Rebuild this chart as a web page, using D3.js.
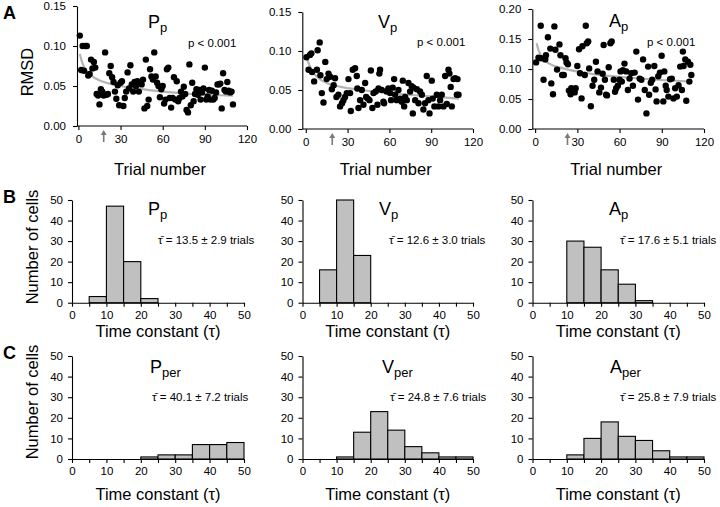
<!DOCTYPE html>
<html><head><meta charset="utf-8">
<script src="https://cdn.jsdelivr.net/npm/d3@7"></script>
<style>
html,body{margin:0;padding:0;background:#fff;}
svg{display:block;font-family:Arial,"Liberation Sans",sans-serif;}
</style></head>
<body>
<svg id="chart" width="720" height="507"></svg>
<script>
// ---------------- DATA ----------------
const scatterTicksX = [0, 30, 60, 90, 120];
const ticksRmsdPV = [0, 0.05, 0.10, 0.15];
const ticksRmsdA = [0, 0.05, 0.10, 0.15, 0.20];
const arrowTrials = [18, 19, 23];

const ppScatter = [[1,0.113],[2,0.070],[3,0.100],[4,0.069],[5,0.100],[6,0.100],[7,0.063],[8,0.065],[9,0.083],[10,0.072],
[11,0.080],[12,0.073],[13,0.040],[14,0.038],[15,0.027],[16,0.046],[17,0.043],[18,0.038],[19,0.092],[20,0.039],
[21,0.040],[22,0.066],[23,0.075],[24,0.061],[25,0.055],[26,0.043],[27,0.034],[28,0.051],[29,0.026],[30,0.054],
[31,0.056],[32,0.025],[33,0.035],[34,0.043],[35,0.067],[36,0.047],[37,0.076],[38,0.052],[39,0.043],[40,0.055],
[41,0.050],[42,0.056],[43,0.043],[44,0.054],[45,0.052],[46,0.058],[47,0.022],[48,0.083],[49,0.025],[50,0.033],
[51,0.071],[52,0.062],[53,0.058],[54,0.092],[55,0.062],[56,0.054],[57,0.050],[58,0.036],[59,0.046],[60,0.050],
[61,0.028],[62,0.033],[63,0.071],[64,0.073],[65,0.035],[66,0.023],[67,0.035],[68,0.061],[69,0.033],[70,0.056],
[71,0.031],[72,0.035],[73,0.043],[74,0.037],[75,0.049],[76,0.040],[77,0.020],[78,0.017],[79,0.077],[80,0.026],
[81,0.054],[82,0.031],[83,0.040],[84,0.046],[85,0.039],[86,0.045],[87,0.033],[88,0.042],[89,0.047],[90,0.073],
[91,0.033],[92,0.037],[93,0.045],[94,0.033],[95,0.044],[96,0.033],[97,0.035],[98,0.042],[99,0.052],[100,0.052],
[101,0.053],[102,0.022],[103,0.066],[104,0.045],[105,0.043],[106,0.055],[107,0.044],[108,0.042],[109,0.043],[110,0.027]];

const vpScatter = [[0.5,0.092],[2,0.076],[3,0.095],[4,0.097],[4.5,0.073],[6,0.061],[8,0.076],[8.5,0.101],[10,0.111],[10.5,0.069],
[11.5,0.046],[12.7,0.034],[14,0.086],[15,0.064],[16.3,0.071],[17.5,0.067],[18.7,0.051],[20,0.056],[21,0.065],[22,0.041],
[23.4,0.044],[24.6,0.029],[26,0.033],[27,0.037],[28.2,0.041],[29.4,0.046],[30.6,0.064],[31.8,0.046],[32.3,0.023],[33.7,0.076],
[35.4,0.078],[36.6,0.068],[37,0.052],[37.8,0.027],[39,0.037],[40.2,0.050],[41.4,0.031],[42.6,0.059],[43.3,0.041],[44.5,0.039],
[45.7,0.037],[46.7,0.075],[47.8,0.027],[48.6,0.046],[50.2,0.048],[51.4,0.031],[52.2,0.052],[52.8,0.071],[53.3,0.076],[54.5,0.050],
[55.7,0.035],[56.2,0.033],[58,0.048],[59.3,0.052],[60.5,0.046],[61.2,0.037],[62.4,0.053],[63.4,0.064],[64.1,0.044],[65.3,0.037],
[66.5,0.050],[67.7,0.039],[68.9,0.035],[69.6,0.062],[70.6,0.029],[71.3,0.041],[72.5,0.037],[73.7,0.059],[74.9,0.048],[76,0.055],
[76.8,0.020],[77.3,0.053],[78.5,0.037],[79.7,0.051],[80.9,0.033],[82,0.048],[83.3,0.044],[84.4,0.025],[85.6,0.033],[86.8,0.068],
[88,0.037],[88.8,0.020],[90.4,0.062],[91.1,0.039],[92.3,0.029],[94,0.044],[95.2,0.029],[96.4,0.037],[97.6,0.044],[98.8,0.029],
[100,0.068],[101.2,0.032],[102.4,0.076],[103.1,0.071],[104,0.054],[104.8,0.029],[106,0.064],[107.2,0.065],[108.4,0.044],[108.9,0.064],[109.6,0.044]];

const apScatter = [[0.7,0.111],[2.4,0.119],[4,0.172],[4.3,0.118],[6,0.082],[7.2,0.116],[7.7,0.123],[9.1,0.153],[10.8,0.134],[11.5,0.076],
[12.7,0.058],[13.7,0.171],[14.4,0.132],[15.6,0.099],[17.3,0.141],[18,0.123],[19.2,0.090],[20.4,0.090],[21.6,0.118],[22.3,0.111],
[23.3,0.108],[24,0.064],[25.2,0.058],[25.7,0.068],[26.9,0.064],[28.1,0.061],[28.8,0.068],[30,0.105],[31.2,0.133],[31.9,0.093],
[33,0.051],[33.6,0.138],[35.3,0.090],[36,0.172],[36.7,0.143],[37.7,0.146],[38.4,0.101],[39.6,0.038],[40.8,0.072],[42,0.082],
[43.2,0.112],[44.4,0.096],[45.6,0.061],[46.8,0.069],[48,0.092],[48.7,0.140],[49.6,0.082],[50.4,0.057],[51.1,0.056],[52.3,0.103],
[53.5,0.143],[54.4,0.146],[55.9,0.082],[56.8,0.062],[57.6,0.068],[58.8,0.072],[60,0.082],[60.7,0.096],[61.6,0.079],[62.4,0.098],
[63.5,0.109],[64.7,0.096],[65.9,0.065],[67.1,0.084],[68.3,0.093],[69.5,0.072],[70.7,0.094],[71.9,0.129],[73.1,0.049],[74.3,0.084],
[75.5,0.082],[76.7,0.116],[77.9,0.065],[79.1,0.026],[80.3,0.104],[81,0.057],[82.2,0.077],[83.2,0.082],[84.7,0.105],[85.6,0.066],
[86.3,0.046],[87.5,0.088],[88.7,0.094],[89.9,0.122],[91.1,0.046],[91.8,0.096],[92.8,0.072],[93.5,0.065],[94.7,0.054],[95.9,0.083],
[97.1,0.084],[98.3,0.051],[99.5,0.068],[100.7,0.054],[101.9,0.073],[103.1,0.104],[104.3,0.065],[105,0.129],[105.5,0.105],[106.7,0.116],
[107.4,0.047],[108.6,0.112],[109.6,0.079],[110.3,0.107],[111,0.090]];

// fitted curves (trial, RMSD)
const ppFit = [[1,0.090],[3,0.078],[5,0.071],[10,0.062],[20,0.054],[30,0.050],[45,0.046],[60,0.043],[80,0.040],[110,0.038]];
const vpFit = [[1,0.090],[3,0.080],[6,0.071],[10,0.064],[15,0.059],[25,0.054],[40,0.050],[60,0.046],[80,0.043],[110,0.039]];
const apFit = [[1,0.143],[3,0.128],[6,0.116],[10,0.109],[20,0.101],[40,0.092],[70,0.085],[110,0.079]];

// histograms: bins of width 5 from 0 to 50
const binStarts = [0, 5, 10, 15, 20, 25, 30, 35, 40, 45];
const histTicksX = [0, 5, 10, 15, 20, 25, 30, 35, 40, 45, 50];
const histTicksY = [0, 10, 20, 30, 40, 50];
const countsPp   = [0, 3, 47, 20, 2, 0, 0, 0, 0, 0];
const countsVp   = [0, 16, 50, 23, 0, 0, 0, 0, 0, 0];
const countsAp   = [0, 0, 30, 27, 16, 9, 1, 0, 0, 0];
const countsPper = [0, 0, 0, 0, 1, 2, 2, 7, 7, 8];
const countsVper = [0, 0, 1, 13, 23, 14, 6, 3, 1, 1];
const countsAper = [0, 0, 2, 10, 18, 11, 9, 4, 1, 1];
const tauLabels = ["13.5 ± 2.9", "12.6 ± 3.0", "17.6 ± 5.1", "40.1 ± 7.2", "24.8 ± 7.6", "25.8 ± 7.9"];

// ---------------- DRAW ----------------
const svg = d3.select("#chart");
const FONT_TICK = 11.5, FONT_TITLE = 16.5;

function title(g, x, y, main, sub) {
  const t = g.append("text").attr("x", x).attr("y", y).attr("font-size", 18).attr("fill", "#000");
  t.append("tspan").text(main);
  t.append("tspan").attr("font-size", 13).attr("dy", 4).text(sub);
}

function styleAxis(sel) {
  sel.selectAll("path.domain").attr("stroke", "#000").attr("stroke-width", 1.1);
  sel.selectAll(".tick line").attr("stroke", "#000").attr("stroke-width", 1.1);
  sel.selectAll(".tick text").attr("font-size", FONT_TICK).attr("fill", "#000")
     .attr("font-family", "Arial, 'Liberation Sans', sans-serif");
}

// Row A scatter panels
const scatterPanels = [
  {data: ppScatter, fit: ppFit, arrow: arrowTrials[0], xd: [-1, 120], xr: [77, 247], yr: [126, 6], ymax: 0.15, yt: ticksRmsdPV,
   t: ["P", "p"], tx: 148, ty: 28, px: 188, py: 47},
  {data: vpScatter, fit: vpFit, arrow: arrowTrials[1], xd: [-2.5, 120], xr: [302.3, 473], yr: [129, 12], ymax: 0.15, yt: ticksRmsdPV,
   t: ["V", "p"], tx: 378, ty: 28, px: 417, py: 46},
  {data: apScatter, fit: apFit, arrow: arrowTrials[2], xd: [-2, 120], xr: [532.3, 704], yr: [129, 9], ymax: 0.20, yt: ticksRmsdA,
   t: ["A", "p"], tx: 609, ty: 27, px: 647, py: 46}
];

scatterPanels.forEach((p, i) => {
  const g = svg.append("g");
  const x = d3.scaleLinear().domain(p.xd).range(p.xr);
  const y = d3.scaleLinear().domain([0, p.ymax]).range(p.yr);

  // fit curve
  g.append("path").datum(p.fit)
    .attr("d", d3.line().x(d => x(d[0])).y(d => y(d[1])).curve(d3.curveMonotoneX))
    .attr("fill", "none").attr("stroke", "#b4b4b4").attr("stroke-width", 2.2);

  // points
  g.selectAll("circle").data(p.data).join("circle")
    .attr("cx", d => x(d[0])).attr("cy", d => y(d[1])).attr("r", 3.2).attr("fill", "#000");

  const ax = g.append("g").attr("transform", `translate(0,${p.yr[0]})`)
    .call(d3.axisBottom(x).tickValues(scatterTicksX).tickSize(4).tickSizeOuter(0).tickPadding(5).tickFormat(d3.format("d")));
  ax.select("path.domain").attr("d", `M${p.xr[0]},0H${p.xr[1]}`);
  styleAxis(ax);
  const ay = g.append("g").attr("transform", `translate(${p.xr[0]},0)`)
    .call(d3.axisLeft(y).tickValues(p.yt).tickSize(4).tickSizeOuter(0).tickPadding(7).tickFormat(d3.format(".2f")));
  styleAxis(ay);

  // arrow
  const axp = x(p.arrow), base = p.yr[0];
  g.append("line").attr("x1", axp).attr("x2", axp).attr("y1", base + 16).attr("y2", base + 7)
    .attr("stroke", "#7a7a7a").attr("stroke-width", 1.6);
  g.append("path").attr("d", `M${axp},${base + 4}L${axp - 3},${base + 9}L${axp + 3},${base + 9}Z`).attr("fill", "#7a7a7a");

  title(g, p.tx, p.ty, p.t[0], p.t[1]);
  g.append("text").attr("x", p.px).attr("y", p.py).attr("font-size", 11.5).text("p < 0.001");

  g.append("text").attr("x", (p.xr[0] + p.xr[1]) / 2 - 2).attr("y", 175).attr("text-anchor", "middle")
    .attr("font-size", FONT_TITLE).text("Trial number");
});

svg.append("text").attr("transform", "translate(33,72) rotate(-90)").attr("text-anchor", "middle")
  .attr("font-size", FONT_TITLE).text("RMSD");

// Histogram panels
const histPanels = [
  {c: countsPp,   xr: [72, 244],    yr: [302.7, 200], t: ["P", "p"],   tx: 148, ty: 215, lx: 158, ly: 244, lab: tauLabels[0], xlY: 337},
  {c: countsVp,   xr: [302.5, 473], yr: [302.7, 200], t: ["V", "p"],   tx: 379, ty: 215, lx: 389, ly: 244, lab: tauLabels[1], xlY: 337},
  {c: countsAp,   xr: [532.5, 704], yr: [302.7, 200], t: ["A", "p"],   tx: 609, ty: 215, lx: 620, ly: 244, lab: tauLabels[2], xlY: 337},
  {c: countsPper, xr: [72, 244],    yr: [459, 356],   t: ["P", "per"], tx: 150, ty: 373, lx: 152, ly: 401, lab: tauLabels[3], xlY: 500},
  {c: countsVper, xr: [302.5, 473], yr: [459, 356],   t: ["V", "per"], tx: 382, ty: 373, lx: 390, ly: 401, lab: tauLabels[4], xlY: 500},
  {c: countsAper, xr: [532.5, 704], yr: [459, 356],   t: ["A", "per"], tx: 610, ty: 373, lx: 620, ly: 401, lab: tauLabels[5], xlY: 500}
];

histPanels.forEach(p => {
  const g = svg.append("g");
  const x = d3.scaleLinear().domain([0, 50]).range(p.xr);
  const y = d3.scaleLinear().domain([0, 50]).range(p.yr);
  const bins = binStarts.map((b, i) => ({x0: b, x1: b + 5, n: p.c[i]})).filter(d => d.n > 0);
  g.selectAll("rect").data(bins).join("rect")
    .attr("x", d => x(d.x0)).attr("width", d => x(d.x1) - x(d.x0))
    .attr("y", d => y(d.n)).attr("height", d => y(0) - y(d.n))
    .attr("fill", "#c0c0c0").attr("stroke", "#000").attr("stroke-width", 1.1);

  const ax = g.append("g").attr("transform", `translate(0,${p.yr[0]})`)
    .call(d3.axisBottom(x).tickValues(histTicksX).tickSize(4).tickSizeOuter(0).tickPadding(4)
      .tickFormat(d => d % 10 === 0 ? d : ""));
  styleAxis(ax);
  const ay = g.append("g").attr("transform", `translate(${p.xr[0]},0)`)
    .call(d3.axisLeft(y).tickValues(histTicksY).tickSize(4).tickSizeOuter(0).tickPadding(5));
  styleAxis(ay);

  title(g, p.tx, p.ty, p.t[0], p.t[1]);
  g.append("text").attr("x", p.lx).attr("y", p.ly).attr("font-size", 11.5)
    .text("τ\u0304 = " + p.lab + " trials");
  g.append("text").attr("x", (p.xr[0] + p.xr[1]) / 2).attr("y", p.xlY).attr("text-anchor", "middle")
    .attr("font-size", FONT_TITLE).text("Time constant (τ)");
});

svg.append("text").attr("transform", "translate(38,247) rotate(-90)").attr("text-anchor", "middle")
  .attr("font-size", FONT_TITLE).text("Number of cells");
svg.append("text").attr("transform", "translate(38,402) rotate(-90)").attr("text-anchor", "middle")
  .attr("font-size", FONT_TITLE).text("Number of cells");

// panel letters
[["A", 19], ["B", 203], ["C", 359]].forEach(([l, yy]) => {
  svg.append("text").attr("x", 3).attr("y", yy).attr("font-size", 18).attr("font-weight", "bold").text(l);
});
</script>
</body></html>
